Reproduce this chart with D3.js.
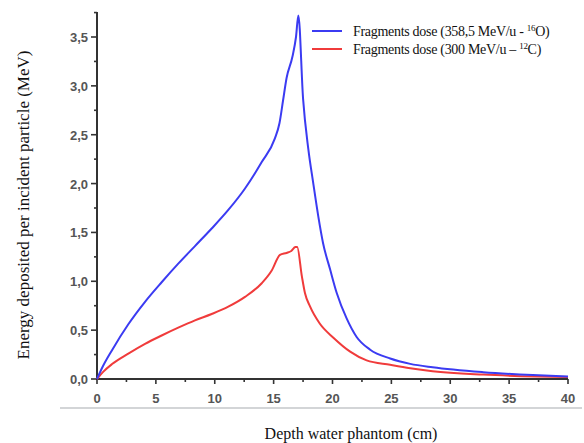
<!DOCTYPE html>
<html>
<head>
<meta charset="utf-8">
<script src="https://cdn.jsdelivr.net/npm/d3@7"></script>
<style>
  html, body { margin: 0; padding: 0; background: #fff; }
  svg { display: block; }
  text.serif { font-family: "Liberation Serif", "DejaVu Serif", serif; }
  text.tick { font-family: "Liberation Sans", Arial, sans-serif; font-weight: 700; }
</style>
</head>
<body>
<svg id="chart" width="584" height="443"></svg>
<script>
// ---- data ----
const seriesNames = ["Fragments dose (358,5 MeV/u - ", "Fragments dose (300 MeV/u \u2013 "];
const seriesIsotopes = [["16", "O)"], ["12", "C)"]];
const seriesColors = ["#3b3bf2", "#f03b3b"];

const oxygenDepth = [0, 0.5, 1.25, 2.66, 4.08, 5.49, 6.9, 8.32, 9.74, 11.15, 12.57, 13.99, 15.1, 15.5, 15.8, 16.1, 16.6, 16.9, 17.1, 17.5, 17.95, 18.37, 18.8, 19.2, 19.8, 20.36, 21.2, 22.05, 23.2, 24.9, 26.6, 28.5, 32.8, 37, 40];
const oxygenDose  = [0, 0.13, 0.29, 0.56, 0.79, 0.99, 1.18, 1.36, 1.54, 1.73, 1.95, 2.22, 2.46, 2.62, 2.85, 3.08, 3.30, 3.50, 3.72, 2.87, 2.35, 2.0, 1.66, 1.39, 1.12, 0.88, 0.62, 0.43, 0.30, 0.21, 0.155, 0.12, 0.07, 0.04, 0.025];

const carbonDepth = [0, 0.5, 1.25, 2.66, 4.08, 5.49, 6.9, 8.32, 9.74, 11.15, 12.57, 13.99, 14.84, 15.54, 16.1, 16.5, 16.85, 17.0, 17.4, 17.66, 18.1, 18.9, 20.1, 21.5, 22.9, 24.9, 26.6, 28.5, 32.8, 40];
const carbonDose  = [0, 0.07, 0.15, 0.26, 0.36, 0.445, 0.525, 0.60, 0.665, 0.74, 0.84, 0.98, 1.11, 1.27, 1.29, 1.31, 1.35, 1.35, 1.05, 0.88, 0.74, 0.57, 0.42, 0.28, 0.19, 0.145, 0.11, 0.08, 0.045, 0.02];

const xTicks = [0, 5, 10, 15, 20, 25, 30, 35, 40];
const yTicks = [0, 0.5, 1.0, 1.5, 2.0, 2.5, 3.0, 3.5];

const xTitle = "Depth water phantom (cm)";
const yTitle = "Energy deposited per incident particle (MeV)";

// ---- layout ----
const svg = d3.select("#chart");
const x = d3.scaleLinear().domain([0, 40]).range([97, 568]);
const y = d3.scaleLinear().domain([0, 3.5]).range([379, 37]);
const yTop = 12;

svg.append("line").attr("x1", 60).attr("x2", 582).attr("y1", 408).attr("y2", 408)
  .attr("stroke", "#a8abb0").attr("stroke-width", 1.2);

const axisColor = "#333";
const labelColor = "#555";

// x axis
const gx = svg.append("g");
gx.append("line").attr("x1", x(0)).attr("x2", x(40)).attr("y1", y(0)).attr("y2", y(0))
  .attr("stroke", axisColor).attr("stroke-width", 2);
const xMinor = d3.range(0, 8).map(i => xTicks[i] + 2.5);
gx.selectAll(".xmaj").data(xTicks).join("line")
  .attr("x1", d => x(d)).attr("x2", d => x(d)).attr("y1", y(0)).attr("y2", y(0) + 5)
  .attr("stroke", axisColor).attr("stroke-width", 1.6);
gx.selectAll(".xmin").data(xMinor).join("line")
  .attr("x1", d => x(d)).attr("x2", d => x(d)).attr("y1", y(0)).attr("y2", y(0) + 3)
  .attr("stroke", axisColor).attr("stroke-width", 1.6);
gx.selectAll(".xlab").data(xTicks).join("text")
  .attr("class", "tick")
  .attr("x", d => x(d)).attr("y", 403)
  .attr("text-anchor", "middle")
  .attr("font-size", 13)
  .attr("fill", labelColor)
  .text(d => d);

// y axis
const gy = svg.append("g");
gy.append("line").attr("x1", x(0)).attr("x2", x(0)).attr("y1", yTop).attr("y2", y(0) + 1)
  .attr("stroke", axisColor).attr("stroke-width", 2);
const yMinor = [0.25, 0.75, 1.25, 1.75, 2.25, 2.75, 3.25, 3.75];
gy.selectAll(".ymaj").data(yTicks).join("line")
  .attr("x1", x(0) - 6).attr("x2", x(0)).attr("y1", d => y(d)).attr("y2", d => y(d))
  .attr("stroke", axisColor).attr("stroke-width", 1.6);
gy.selectAll(".ymin").data(yMinor).join("line")
  .attr("x1", x(0) - 3).attr("x2", x(0)).attr("y1", d => y(d)).attr("y2", d => y(d))
  .attr("stroke", axisColor).attr("stroke-width", 1.6);
gy.selectAll(".ylab").data(yTicks).join("text")
  .attr("class", "tick")
  .attr("x", 88).attr("y", d => y(d) + 5)
  .attr("text-anchor", "end")
  .attr("font-size", 13)
  .attr("fill", labelColor)
  .text(d => d.toFixed(1).replace(".", ","));

// titles
svg.append("text").attr("class", "serif").attr("x", 351).attr("y", 439).attr("text-anchor", "middle")
  .attr("font-size", 16).attr("fill", "#111").text(xTitle);
svg.append("text").attr("class", "serif").attr("transform", "translate(29,205) rotate(-90)").attr("text-anchor", "middle")
  .attr("font-size", 17).attr("fill", "#111").text(yTitle);

// lines
const line = d3.line().x(d => x(d[0])).y(d => y(d[1])).curve(d3.curveMonotoneX);
svg.append("path").datum(d3.zip(carbonDepth, carbonDose)).attr("d", line).attr("fill", "none")
  .attr("stroke", seriesColors[1]).attr("stroke-width", 2);
svg.append("path").datum(d3.zip(oxygenDepth, oxygenDose)).attr("d", line).attr("fill", "none")
  .attr("stroke", seriesColors[0]).attr("stroke-width", 2);

// legend
const legend = svg.append("g");
[0, 1].forEach(i => {
  const ly = 31 + i * 18;
  legend.append("line").attr("x1", 312).attr("x2", 342).attr("y1", ly).attr("y2", ly)
    .attr("stroke", seriesColors[i]).attr("stroke-width", 2);
  const t = legend.append("text").attr("class", "serif").attr("x", 353).attr("y", ly + 5)
    .attr("font-size", 14).attr("fill", "#111").attr("letter-spacing", -0.3);
  t.append("tspan").text(seriesNames[i]);
  t.append("tspan").attr("dy", -5).attr("font-size", 9).text(seriesIsotopes[i][0]);
  t.append("tspan").attr("dy", 5).text(seriesIsotopes[i][1]);
});
</script>
</body>
</html>
